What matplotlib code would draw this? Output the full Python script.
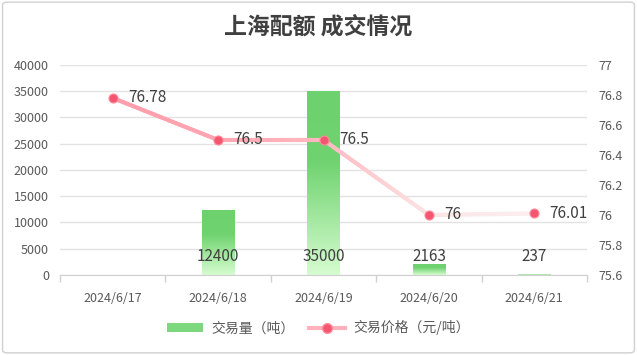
import matplotlib
matplotlib.use("Agg")
import matplotlib.pyplot as plt
import numpy as np
from matplotlib.colors import LinearSegmentedColormap, to_rgb
from matplotlib.collections import LineCollection
from matplotlib.patches import FancyBboxPatch, Patch
from matplotlib.lines import Line2D

plt.rcParams['font.family'] = ['Noto Sans CJK SC', 'DejaVu Sans']

title = "上海配额 成交情况"
dates = ["2024/6/17", "2024/6/18", "2024/6/19", "2024/6/20", "2024/6/21"]
volume = [0, 12400, 35000, 2163, 237]
volume_labels = ["", "12400", "35000", "2163", "237"]
price = [76.78, 76.5, 76.5, 76.0, 76.01]
price_labels = ["76.78", "76.5", "76.5", "76", "76.01"]
vol_name = "交易量（吨）"
price_name = "交易价格（元/吨）"

fig = plt.figure(figsize=(6.37, 3.55), dpi=100)
fig.patch.set_facecolor("white")
fig.patches.append(FancyBboxPatch((0.004, 0.006), 0.992, 0.988, boxstyle="round,pad=0,rounding_size=0.008",
                                  transform=fig.transFigure, fill=False, edgecolor="#d0d0d0", linewidth=1.0))

ax = fig.add_axes([0.0942, 0.2254, 0.8273, 0.5915])
x = np.arange(len(dates))
ax.set_xlim(-0.5, len(dates) - 0.5)
ax.set_ylim(0, 40000)
ax.set_yticks(np.arange(0, 40001, 5000))
ax.grid(axis="y", color="#e2e2e2", linewidth=1.0)
ax.set_axisbelow(True)
for s in ["top", "right", "left"]:
    ax.spines[s].set_visible(False)
ax.spines["bottom"].set_color("#d0d0d0")
ax.set_xticks(x)
ax.set_xticklabels(dates)
ax.set_xticks(np.arange(-0.5, len(dates), 1.0), minor=True)
ax.tick_params(axis="x", which="major", length=0, pad=12, labelsize=9, labelcolor="#595959")
ax.tick_params(axis="x", which="minor", length=5, color="#d0d0d0", width=1)
ax.tick_params(axis="y", length=0, pad=8, labelsize=9, labelcolor="#595959")

# gradient bars
cmap = LinearSegmentedColormap.from_list("g", [(0, "#d6fcd0"), (0.62, "#6fd36f"), (1.0, "#6dd26d")])
grad = np.linspace(0, 1, 256).reshape(-1, 1)
bw = 0.31
bars = ax.bar(x, volume, width=bw, color="none", edgecolor="none", zorder=2)
for b, v in zip(bars, volume):
    if v <= 0:
        continue
    im = ax.imshow(grad, cmap=cmap, aspect="auto", origin="lower",
                   extent=[b.get_x(), b.get_x() + b.get_width(), 0, v], zorder=2)
    im.set_clip_path(b)
ax.set_xlim(-0.5, len(dates) - 0.5)
ax.set_ylim(0, 40000)

for xi, lab in zip(x, volume_labels):
    if lab:
        ax.annotate(lab, (xi, 0), xytext=(0, 13), textcoords="offset points", ha="center", va="center",
                    fontsize=11, color="#404040", zorder=5)

# price line on twin axis
ax2 = ax.twinx()
ax2.set_ylim(75.6, 77)
ax2.set_yticks(np.round(np.arange(75.6, 77.01, 0.2), 1))
ax2.set_yticklabels(["75.6", "75.8", "76", "76.2", "76.4", "76.6", "76.8", "77"])
for s in ["top", "right", "left", "bottom"]:
    ax2.spines[s].set_visible(False)
ax2.tick_params(axis="y", length=0, pad=8, labelsize=9, labelcolor="#595959")

# colour gradient along x for the line
stops_x = [0, 1, 2, 3, 4]
stops_c = [to_rgb("#ff9dab"), to_rgb("#ffa6b2"), to_rgb("#ffb8c0"), to_rgb("#fbe4e4"), to_rgb("#fcefef")]
segs, cols = [], []
n = 30
for i in range(len(x) - 1):
    for k in range(n):
        t0, t1 = k / n, (k + 1) / n
        xa, xb = x[i] + t0, x[i] + t1
        ya = price[i] + (price[i + 1] - price[i]) * t0
        yb = price[i] + (price[i + 1] - price[i]) * t1
        segs.append([(xa, ya), (xb, yb)])
        xm = (xa + xb) / 2
        c = np.array([np.interp(xm, stops_x, [cc[j] for cc in stops_c]) for j in range(3)])
        cols.append(c)
lc = LineCollection(segs, colors=cols, linewidths=3.0, capstyle="round", zorder=3)
ax2.add_collection(lc)
ax2.plot(x, price, linestyle="none", marker="o", markersize=6.5, markerfacecolor="#f4566f",
         markeredgecolor="#ff8a9c", markeredgewidth=0.8, zorder=4)
for xi, yi, lab in zip(x, price, price_labels):
    ax2.annotate(lab, (xi, yi), xytext=(11, 0), textcoords="offset points", ha="left", va="center",
                 fontsize=11, color="#404040", zorder=5)

fig.text(0.5, 0.925, title, ha="center", va="center", fontsize=16.5, color="#404040", fontweight="bold")

handles = [Patch(facecolor="#7dd87d", edgecolor="none"),
           Line2D([0], [0], color="#ffb0bb", linewidth=3, marker="o", markersize=7,
                  markerfacecolor="#f4566f", markeredgecolor="#ff8a9c")]
fig.legend(handles, [vol_name, price_name], loc="center", bbox_to_anchor=(0.5, 0.077), ncol=2, frameon=False,
           fontsize=10, labelcolor="#595959", handlelength=2.6, handleheight=0.6, columnspacing=1.0, handletextpad=0.6)

fig.savefig("out.png", dpi=100, facecolor="white")
